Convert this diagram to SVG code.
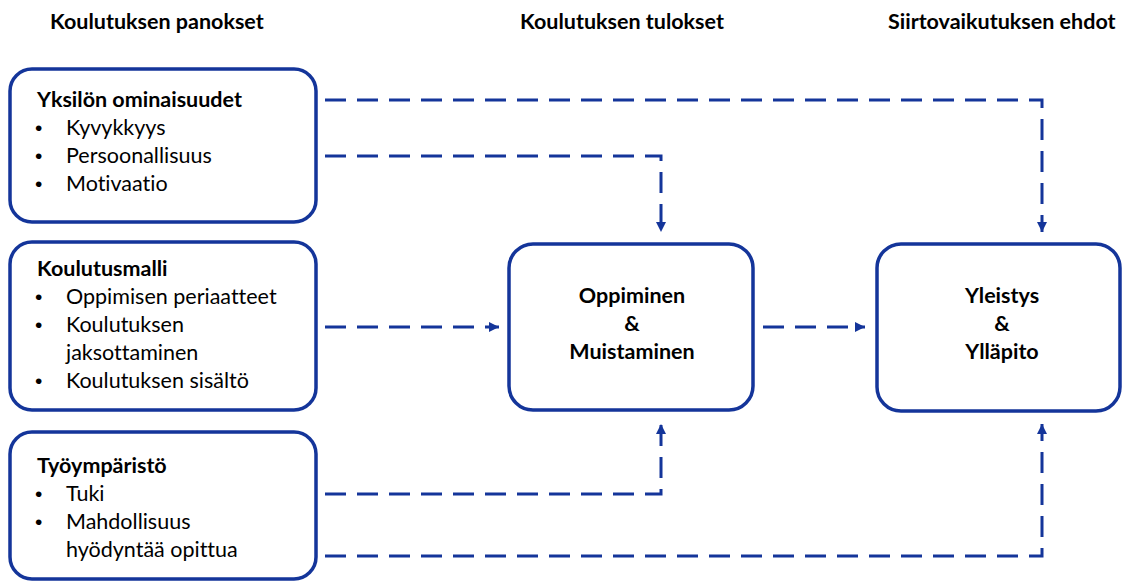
<svg xmlns="http://www.w3.org/2000/svg" width="1122" height="582" viewBox="0 0 1122 582">
<style>
.box{fill:#fff;stroke:#14359a;stroke-width:3.5}
.t{font-family:Lato,"Liberation Sans",sans-serif;font-size:21.5px;fill:#000;font-variant-ligatures:none}
.b{font-weight:bold}
.c{text-anchor:middle}
.bu{font-family:"Liberation Sans",sans-serif;font-size:21px;fill:#000}
.con{fill:none;stroke:#14359a;stroke-width:3;stroke-dasharray:21 11}
</style>
<defs>
<marker id="ah" viewBox="0 0 10 10" refX="10" refY="5" markerWidth="10" markerHeight="10" markerUnits="userSpaceOnUse" orient="auto">
<path d="M0,0 L10,5 L0,10 z" fill="#14359a"/>
</marker>
</defs>
<rect width="1122" height="582" fill="#fff"/>
<g id="headers">
<text class="t b" x="50" y="29">Koulutuksen panokset</text>
<text class="t b" x="520" y="29">Koulutuksen tulokset</text>
<text class="t b" x="888" y="29">Siirtovaikutuksen ehdot</text>
</g>
<g id="connectors">
<path class="con" d="M325,100 H1042 V232" marker-end="url(#ah)"/>
<path class="con" d="M325,156 H661 V232" marker-end="url(#ah)"/>
<path class="con" d="M325,327 H499" marker-end="url(#ah)"/>
<path class="con" d="M763,327 H865" marker-end="url(#ah)"/>
<path class="con" d="M325,494 H661 V424" marker-end="url(#ah)"/>
<path class="con" d="M325,556 H1042 V424" marker-end="url(#ah)"/>
</g>
<g id="yksilo">
<rect class="box" x="10" y="69" width="306" height="153" rx="22"/>
<text class="t b" x="37" y="107">Yksilön ominaisuudet</text>
<text class="bu" x="35" y="135">•</text><text class="t" x="66" y="135">Kyvykkyys</text>
<text class="bu" x="35" y="163">•</text><text class="t" x="66" y="163">Persoonallisuus</text>
<text class="bu" x="35" y="191">•</text><text class="t" x="66" y="191">Motivaatio</text>
</g>
<g id="koulutusmalli">
<rect class="box" x="10" y="242" width="306" height="168" rx="22"/>
<text class="t b" x="37" y="276">Koulutusmalli</text>
<text class="bu" x="35" y="304">•</text><text class="t" x="66" y="304">Oppimisen periaatteet</text>
<text class="bu" x="35" y="332">•</text><text class="t" x="66" y="332">Koulutuksen</text>
<text class="t" x="66" y="360">jaksottaminen</text>
<text class="bu" x="35" y="388">•</text><text class="t" x="66" y="388">Koulutuksen sisältö</text>
</g>
<g id="tyoymparisto">
<rect class="box" x="10" y="432" width="306" height="147" rx="22"/>
<text class="t b" x="37" y="473">Työympäristö</text>
<text class="bu" x="35" y="501">•</text><text class="t" x="66" y="501">Tuki</text>
<text class="bu" x="35" y="529">•</text><text class="t" x="66" y="529">Mahdollisuus</text>
<text class="t" x="66" y="557">hyödyntää opittua</text>
</g>
<g id="oppiminen">
<rect class="box" x="509" y="244" width="244" height="166" rx="24"/>
<text class="t b c" x="632" y="303">Oppiminen</text>
<text class="t b c" x="632" y="331">&amp;</text>
<text class="t b c" x="632" y="359">Muistaminen</text>
</g>
<g id="yleistys">
<rect class="box" x="877" y="244" width="243" height="167" rx="24"/>
<text class="t b c" x="1002" y="303">Yleistys</text>
<text class="t b c" x="1002" y="331">&amp;</text>
<text class="t b c" x="1002" y="359">Ylläpito</text>
</g>
</svg>
